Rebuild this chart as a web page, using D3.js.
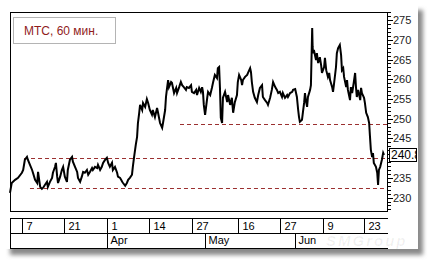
<!DOCTYPE html>
<html>
<head>
<meta charset="utf-8">
<script src="https://cdn.jsdelivr.net/npm/d3@7"></script>
<style>
body { margin: 0; background: #fff; }
svg { display: block; }
text { font-family: "Liberation Sans", Arial, sans-serif; }
</style>
</head>
<body>
<div id="chart"></div>
<script>
// hourly closes, position in trading days from the left edge
var dayT = [0,0.4,1.2,1.9,2.8,3.1,3.5,4.0,4.2,4.7,5.2,5.4,5.9,6.4,6.6,7.1,7.5,7.8,8.2,8.7,8.9,9.4,9.9,10.1,10.6,10.8,11.1,11.3,11.8,12.2,12.5,12.9,13.4,13.6,14.1,14.6,14.8,15.3,15.8,16.0,16.5,16.9,17.2,17.6,18.1,18.4,18.8,19.3,19.5,20.0,20.5,20.7,21.2,21.6,21.9,22.4,22.8,23.1,23.5,24.0,24.2,24.7,25.2,25.4,25.9,26.4,26.6,27.1,27.5,27.8,28.2,28.7,28.9,29.2,29.6,29.9,30.1,30.4,30.6,31.1,31.3,31.8,32.2,32.5,32.9,33.4,33.6,34.1,34.6,34.8,35.3,35.8,36.0,36.5,36.7,36.9,37.2,37.4,37.9,38.1,38.6,39.1,39.3,39.8,40.2,40.5,40.9,41.4,41.6,42.1,42.6,42.8,43.3,43.8,44.0,44.5,44.9,45.2,45.4,45.6,45.9,46.4,46.6,47.1,47.5,47.8,48.2,48.7,48.9,49.2,49.4,49.6,49.9,50.1,50.6,51.1,51.3,51.8,52.2,52.5,52.9,53.4,53.6,53.9,54.4,54.6,54.8,55.3,55.8,56.0,56.5,56.7,56.9,57.2,57.6,58.1,58.4,58.8,59.3,59.5,60.0,60.5,60.7,61.2,61.6,61.9,62.4,62.8,63.1,63.5,64.0,64.2,64.7,65.2,65.4,65.9,66.4,66.6,67.1,67.5,67.8,68.0,68.2,68.7,68.9,69.2,69.4,69.6,69.9,70.1,70.6,70.8,71.1,71.2,71.3,71.5,72.0,72.2,72.5,72.9,73.2,73.4,73.9,74.1,74.4,74.8,75.1,75.3,75.8,76.0,76.2,76.7,76.9,77.2,77.6,77.9,78.1,78.4,78.6,79.1,79.3,79.5,80.0,80.2,80.5,80.9,81.2,81.4,81.6,81.9,82.4,82.6,82.8,83.3,83.5,83.8,84.2,84.5,84.7,84.9,85.2,85.4,85.6,86.1,86.4,86.6,86.8,87.1,87.5,87.8,88.0];
var price = [231.2,233.7,234.5,235.0,236.3,237.0,239.6,240.3,239.6,238.3,237.0,236.3,234.5,233.7,236.5,232.7,232.2,232.5,233.2,234.0,232.7,234.0,235.0,236.3,237.8,238.8,235.3,233.7,235.3,237.0,237.8,235.3,234.0,237.0,239.6,240.3,239.1,237.8,236.5,235.0,234.0,235.3,236.5,236.3,237.0,235.8,236.5,237.5,237.0,237.8,237.5,238.3,237.0,237.8,238.8,239.6,240.1,238.8,237.8,238.8,237.0,237.8,236.3,235.3,235.0,234.0,233.7,233.0,233.7,234.5,235.0,235.8,237.8,240.3,243.4,245.4,248.9,251.5,253.5,252.2,254.0,253.0,255.0,254.0,252.2,251.0,252.2,250.4,252.7,251.7,248.9,247.7,248.9,252.2,255.5,257.3,259.8,258.0,259.3,259.1,256.5,257.8,256.5,258.0,259.3,258.5,258.0,257.3,258.0,257.8,258.5,256.8,256.5,257.3,256.0,257.8,256.8,258.0,256.8,253.5,251.0,255.3,256.8,256.0,257.8,259.3,261.1,260.3,262.8,263.1,257.8,250.2,248.9,255.3,256.8,254.2,256.0,253.5,255.3,251.5,254.2,256.0,259.3,261.1,259.8,258.5,259.8,260.6,261.1,261.6,262.8,261.8,259.3,256.8,255.3,254.2,256.0,257.8,258.5,255.5,254.7,254.0,253.5,255.3,257.3,259.3,258.0,257.3,256.5,256.8,255.5,256.5,255.3,256.0,255.5,256.5,256.8,257.3,257.5,255.5,252.2,250.4,249.2,249.7,251.5,254.0,256.5,254.7,253.0,255.5,257.3,258.5,273.0,268.2,266.6,267.4,264.9,266.6,264.1,265.6,263.6,261.6,263.1,265.4,262.3,260.6,261.6,259.8,258.0,256.8,258.5,263.1,266.6,267.9,268.7,266.1,262.3,262.8,260.6,258.0,259.8,257.3,254.7,258.0,256.5,259.3,261.6,258.0,255.5,257.3,254.7,257.8,256.5,255.3,254.0,251.5,250.4,248.9,245.4,242.1,240.3,241.3,238.8,237.8,236.3,233.2,237.0,237.8,239.6,241.3,240.8];

var dayTicks = [2.8, 12.7, 22.8, 32.7, 42.8, 53.6, 63.5, 73.6, 83.3];
var dayLabels = ["7", "21", "1", "14", "27", "16", "27", "9", "23"];
var monthTicks = [22.8, 45.9, 67.1];
var monthLabels = ["Apr", "May", "Jun"];

var levels = [248.7, 240.0, 232.5];
var levelStart = [40, 3.3, 4.7];

var title = "МТС, 60 мин.";

var W = 432, H = 262;
var plot = { left: 10, right: 387, top: 12, bottom: 211 };

var svg = d3.select("#chart").append("svg")
    .attr("width", W)
    .attr("height", H);

var defs = svg.append("defs");
defs.append("filter").attr("id", "blur")
    .attr("x", "-5%").attr("y", "-5%").attr("width", "110%").attr("height", "110%")
    .append("feGaussianBlur").attr("stdDeviation", 2);

// panel with drop shadow
svg.append("rect")
    .attr("x", 10).attr("y", 10).attr("width", 413).attr("height", 245)
    .attr("fill", "#8a8a8a")
    .attr("filter", "url(#blur)");
svg.append("rect")
    .attr("x", 0).attr("y", 0).attr("width", 418).attr("height", 249)
    .attr("fill", "#fff");

var x = d3.scaleLinear().domain([0, 88.7]).range([plot.left, plot.right]);
var y = d3.scaleLinear().domain([226.6, 277.05]).range([plot.bottom, plot.top]);

// support / resistance levels
svg.selectAll(".level")
    .data(levels)
    .enter().append("line")
    .attr("class", "level")
    .attr("x1", function (d, i) { return x(levelStart[i]); })
    .attr("x2", plot.right)
    .attr("y1", function (d) { return Math.round(y(d)) + 0.5; })
    .attr("y2", function (d) { return Math.round(y(d)) + 0.5; })
    .attr("stroke", "#9b3030")
    .attr("stroke-width", 1)
    .attr("stroke-dasharray", "4,3");

// price line
var pts = dayT.map(function (t, i) { return [t, price[i]]; });
var line = d3.line()
    .x(function (d) { return x(d[0]); })
    .y(function (d) { return y(d[1]); });

svg.append("path")
    .datum(pts)
    .attr("d", line)
    .attr("fill", "none")
    .attr("stroke", "#000")
    .attr("stroke-width", 2)
    .attr("stroke-linejoin", "miter");

// frame
svg.append("rect")
    .attr("x", plot.left + 0.5).attr("y", plot.top + 0.5)
    .attr("width", plot.right - plot.left).attr("height", plot.bottom - plot.top)
    .attr("fill", "none").attr("stroke", "#000");

// title box
svg.append("rect")
    .attr("x", 13.5).attr("y", 17.5).attr("width", 102).attr("height", 26)
    .attr("fill", "#fff").attr("stroke", "#b4b4b4");
svg.append("text")
    .attr("x", 24).attr("y", 35)
    .attr("font-size", 12).attr("fill", "#901c1c")
    .text(title);

// right price axis
var last = price[price.length - 1];
var yAxis = svg.append("g");
d3.range(227, 278).forEach(function (v) {
    var major = v % 5 === 0;
    var yy = Math.round(y(v)) + 0.5;
    yAxis.append("line")
        .attr("x1", plot.right + 1).attr("x2", plot.right + 1 + (major ? 5 : 3))
        .attr("y1", yy).attr("y2", yy)
        .attr("stroke", "#000");
    if (major && Math.abs(y(v) - y(last)) > 8) {
        yAxis.append("text")
            .attr("x", plot.right + 6).attr("y", y(v) + 4)
            .attr("font-size", 11).attr("fill", "#222")
            .text(v);
    }
});

// last value box
defs.append("clipPath").attr("id", "lastclip")
    .append("rect").attr("x", 389).attr("y", y(last) - 7).attr("width", 27).attr("height", 14);
svg.append("rect")
    .attr("x", 389.5).attr("y", Math.round(y(last) - 7) + 0.5).attr("width", 27).attr("height", 13)
    .attr("fill", "#fff").attr("stroke", "#000");
svg.append("text")
    .attr("clip-path", "url(#lastclip)")
    .attr("x", 391).attr("y", y(last) + 4)
    .attr("font-size", 12).attr("fill", "#000")
    .text(d3.format(".2f")(last));

// time axis: two rows
var row1 = 218.5, row2 = 233.5, row3 = 248.5;
var xa = svg.append("g").attr("stroke", "#000");
[row1, row2, row3].forEach(function (r) {
    xa.append("line").attr("x1", plot.left).attr("x2", plot.right + 1).attr("y1", r).attr("y2", r);
});
xa.append("line").attr("x1", plot.left + 0.5).attr("x2", plot.left + 0.5).attr("y1", row1).attr("y2", row3);

dayTicks.forEach(function (t, i) {
    var xx = Math.round(x(t)) + 0.5;
    xa.append("line").attr("x1", xx).attr("x2", xx).attr("y1", row1).attr("y2", row2);
    svg.append("text")
        .attr("x", xx + 4).attr("y", row2 - 4)
        .attr("font-size", 11).attr("fill", "#000")
        .text(dayLabels[i]);
});
monthTicks.forEach(function (t, i) {
    var xx = Math.round(x(t)) + 0.5;
    xa.append("line").attr("x1", xx).attr("x2", xx).attr("y1", row2).attr("y2", row3);
    svg.append("text")
        .attr("x", xx + 3).attr("y", row3 - 4.5)
        .attr("font-size", 11).attr("fill", "#000")
        .text(monthLabels[i]);
});

// faint watermark, right of the month labels
svg.append("text")
    .attr("x", 326).attr("y", 246)
    .attr("font-size", 15).attr("font-style", "italic").attr("font-weight", "bold")
    .attr("letter-spacing", 2)
    .attr("fill", "#000").attr("fill-opacity", 0.06)
    .text("SMGroup");
</script>
</body>
</html>
